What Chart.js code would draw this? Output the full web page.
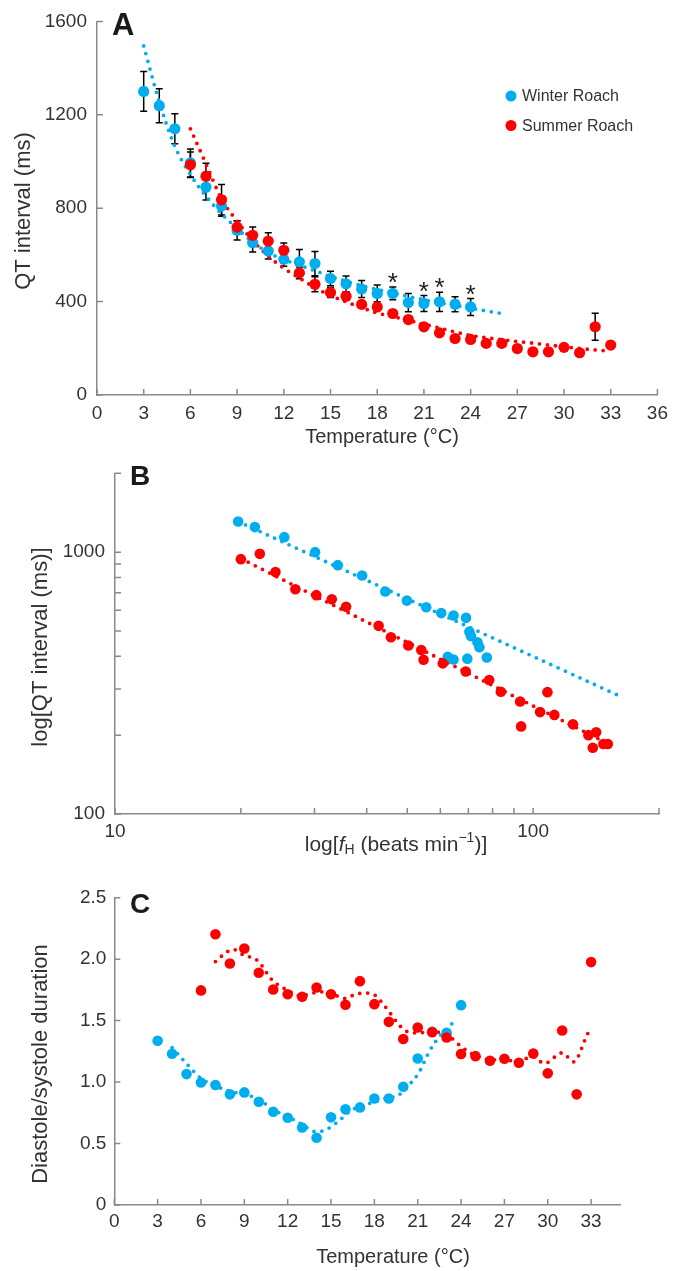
<!DOCTYPE html>
<html>
<head>
<meta charset="utf-8">
<script src="https://cdn.jsdelivr.net/npm/chart.js@4.4.1/dist/chart.umd.min.js"></script>
<style>
  html, body { margin: 0; padding: 0; background: #fff; }
  #wrap { position: relative; width: 675px; height: 1271px; }
  .panel { position: absolute; left: 0; width: 675px; }
</style>
</head>
<body>
<div id="wrap">
  <div class="panel" style="top:0;height:450px"><canvas id="chartA"></canvas></div>
  <div class="panel" style="top:450px;height:420px"><canvas id="chartB"></canvas></div>
  <div class="panel" style="top:870px;height:401px"><canvas id="chartC"></canvas></div>
</div>
<script>
// ---- Panel A: QT interval vs temperature ----
const tempWinterA = [3,4,5,6,7,8,9,10,11,12,13,14,15,16,17,18,19,20,21,22,23,24];
const qtWinter    = [1300,1239,1140,994,890,809,705,652,617,581,570,563,499,476,454,435,435,396,392,399,389,377];
const qtWinterErr = [85,73,64,60,55,43,41,40,35,30,53,52,31,34,36,36,27,39,34,41,32,36];
const tempSummerA = [6,7,8,9,10,11,12,13,14,15,16,17,18,19,20,21,22,23,24,25,26,27,28,29,30,31,32,33];
const qtSummer    = [986,937,836,719,684,659,620,523,474,439,423,388,377,349,323,292,266,242,238,221,221,199,185,185,204,181,292,214];
const qtSummerErr = [55,55,65,27,36,36,31,25,32,21,17,13,13,12,10,10,10,10,10,8,8,8,8,8,8,8,58,8];
// fitted curves
const fitTempWinterA = [3,4,5,6,7,8,9,10,11,12,13,14,15,16,17,18,19,20,21,22,23,24,25,26];
const fitQtWinterA   = [1495,1255,1065,944,852,776,713,655,610,580,556,532,508,487,468,452,437,422,408,395,384,372,360,349];
const fitTempSummerA = [6,7,8,9,10,11,12,13,14,15,16,17,18,19,20,21,22,23,24,25,26,27,28,29,30,31,32,33];
const fitQtSummerA   = [1140,990,840,744,662,595,543,501,460,426,399,374,351,336,320,303,287,270,255,245,237,229,222,214,207,199,193,188];
const sigTemps = [19,21,22,24];
const tempTicksA = [0,3,6,9,12,15,18,21,24,27,30,33,36];
const qtTicksA = [0,400,800,1200,1600];

// ---- Panel B: log QT vs log heart rate ----
const fhWinter  = [19.7,21.6,25.4,30.1,34.1,39.0,44.3,49.9,55.5,60.3,64.5,69.1,70.4,71.0,73.6,74.4,77.5,69.6,64.5,62.5];
const qtWinterB = [1309,1246,1141,1000,892,814,707,653,616,585,573,561,497,478,453,433,396,392,389,398];
const fhSummer  = [20.0,22.2,24.2,27.0,30.3,33.0,35.7,42.7,45.7,50.3,54.0,54.7,60.8,69.0,78.5,83.7,93.1,93.6,108.2,103.9,112.4,124.5,135.6,141.5,138.9,147.2,150.9];
const qtSummerB = [940,985,839,722,685,661,619,523,473,440,423,388,376,350,325,293,269,216,292,245,239,220,200,205,179,185,185];
const fitFhWinter = [19.7,163.6];
const fitQtWinterB = [1309,279];
const fitFhSummer = [20.0,150.7];
const fitQtSummerB = [945,186];
const fhTicks = [10,20,30,40,50,60,70,80,90,100,200];
const fhLabels = [10,100];
const qtTicksB = [100,200,300,400,500,600,700,800,900,1000,2000];
const qtLabelsB = [100,1000];

// ---- Panel C: diastole/systole ratio vs temperature ----
const tempWinterC = [3,4,5,6,7,8,9,10,11,12,13,14,15,16,17,18,19,20,21,22,23,24];
const ratioWinter = [1.336,1.230,1.065,0.997,0.976,0.900,0.916,0.840,0.759,0.710,0.631,0.547,0.713,0.778,0.794,0.867,0.867,0.962,1.192,1.409,1.401,1.626];
const tempSummerC = [6,7,8,9,10,11,12,13,14,15,16,17,18,19,20,21,22,23,24,25,26,27,28,29,30,31,32,33];
const ratioSummer = [1.746,2.203,1.965,2.087,1.889,1.753,1.715,1.694,1.770,1.715,1.629,1.821,1.634,1.490,1.350,1.444,1.406,1.363,1.228,1.211,1.173,1.190,1.157,1.233,1.071,1.420,0.900,1.976];
const fitTempWinterC = [4,5,6,7,8,9,10,11,12,13,14,14.7,15.6,16.4,17.5,18.6,19.75,20.5,21.1,21.8,22.5,23,23.65];
const fitRatioWinter = [1.28,1.15,1.03,0.97,0.925,0.90,0.86,0.775,0.72,0.655,0.595,0.615,0.69,0.77,0.82,0.86,0.90,0.99,1.08,1.25,1.37,1.43,1.51];
const fitTempSummerC = [7,7.7,8.2,9,9.6,10,10.6,11,11.5,12,12.9,13.5,14.2,15,16,16.6,17.3,18,18.5,19.1,19.75,20.3,21.1,22,22.6,23.2,23.9,24.7,25.6,26.6,27.5,28.2,28.9,29.8,30.6,31,31.8,32.1,32.5,32.9];
const fitRatioSummer = [1.98,2.05,2.08,2.03,2.01,1.98,1.88,1.82,1.78,1.745,1.70,1.716,1.735,1.72,1.68,1.71,1.725,1.71,1.65,1.56,1.46,1.41,1.40,1.415,1.40,1.37,1.30,1.233,1.19,1.18,1.175,1.18,1.206,1.152,1.214,1.238,1.165,1.206,1.323,1.43];
const tempTicksC = [0,3,6,9,12,15,18,21,24,27,30,33];
const ratioTicks = [0,0.5,1.0,1.5,2.0,2.5];

const FONT = "'Liberation Sans', Arial, Helvetica, sans-serif";
const AXIS_COLOR = '#8a8a8a';
const TEXT_COLOR = '#333';
const BLUE = '#00aeef';
const RED = '#ff0000';

function pts(xs, ys) { return xs.map((x, i) => ({ x: x, y: ys[i] })); }
function fixedTicks(values) { return (scale) => { scale.ticks = values.map(v => ({ value: v })); }; }

function points(label, data, color, r) {
  return { label, data, backgroundColor: color, pointBackgroundColor: color,
    pointBorderWidth: 0, pointRadius: r, pointHoverRadius: r, showLine: false };
}
function dotted(label, data, color, mode) {
  return { label, data, borderColor: color, borderWidth: 3.8, borderDash: [0, 8],
    borderCapStyle: 'round', pointRadius: 0, showLine: true,
    cubicInterpolationMode: mode || 'default', tension: mode ? 0 : 0.35 };
}

function axis(extra, tickPad, fmt) {
  return Object.assign({
    grid: { display: false, drawTicks: false },
    border: { color: AXIS_COLOR, width: 1.5 },
    ticks: { padding: tickPad, autoSkip: false, maxRotation: 0, color: TEXT_COLOR,
      font: { family: FONT, size: 19 }, callback: fmt || (v => String(v)) }
  }, extra);
}

// small tick marks pointing into the plot
const inwardTicks = {
  id: 'inwardTicks',
  afterDatasetsDraw(chart) {
    const { ctx, scales: { x, y } } = chart;
    ctx.save();
    ctx.strokeStyle = AXIS_COLOR;
    ctx.lineWidth = 1.5;
    ctx.beginPath();
    x.ticks.forEach(t => { const px = x.getPixelForValue(t.value); ctx.moveTo(px, x.top); ctx.lineTo(px, x.top - 6); });
    y.ticks.forEach(t => { const py = y.getPixelForValue(t.value); ctx.moveTo(y.right, py); ctx.lineTo(y.right + 6, py); });
    ctx.stroke();
    ctx.restore();
  }
};

// panel letter and axis titles
function panelText(o) {
  return {
    id: 'panelText',
    afterDraw(chart) {
      const ctx = chart.ctx;
      ctx.save();
      ctx.fillStyle = '#1a1a1a';
      ctx.font = `bold ${o.letterSize}px ${FONT}`;
      ctx.textAlign = 'left';
      ctx.textBaseline = 'alphabetic';
      ctx.fillText(o.letter, o.letterX, o.letterY);

      ctx.fillStyle = TEXT_COLOR;
      ctx.textBaseline = 'middle';
      // y title
      ctx.save();
      ctx.translate(o.yTitleX, o.yTitleY);
      ctx.rotate(-Math.PI / 2);
      ctx.textAlign = 'center';
      ctx.font = `22px ${FONT}`;
      ctx.fillText(o.yTitle, 0, 0);
      ctx.restore();
      // x title, as pieces (for sub/superscripts)
      const segs = o.xTitle;
      const fontOf = s => `${s.italic ? 'italic ' : ''}${s.small ? 14 : o.xSize}px ${FONT}`;
      let total = 0;
      segs.forEach(s => { ctx.font = fontOf(s); total += ctx.measureText(s.t).width; });
      let cx = o.xTitleX - total / 2;
      ctx.textAlign = 'left';
      segs.forEach(s => {
        ctx.font = fontOf(s);
        ctx.fillText(s.t, cx, o.xTitleY + (s.dy || 0));
        cx += ctx.measureText(s.t).width;
      });
      ctx.restore();
    }
  };
}

// error bars, significance stars and legend for panel A
const errorBars = {
  id: 'errorBars',
  beforeDatasetsDraw(chart) {
    const { ctx, scales: { x, y } } = chart;
    ctx.save();
    ctx.strokeStyle = '#000';
    ctx.lineWidth = 1.5;
    const draw = (ts, vs, es) => ts.forEach((t, i) => {
      const px = x.getPixelForValue(t);
      const top = y.getPixelForValue(vs[i] + es[i]);
      const bot = y.getPixelForValue(vs[i] - es[i]);
      ctx.beginPath();
      ctx.moveTo(px, top); ctx.lineTo(px, bot);
      ctx.moveTo(px - 3.5, top); ctx.lineTo(px + 3.5, top);
      ctx.moveTo(px - 3.5, bot); ctx.lineTo(px + 3.5, bot);
      ctx.stroke();
    });
    draw(tempSummerA, qtSummer, qtSummerErr);
    draw(tempWinterA, qtWinter, qtWinterErr);
    ctx.restore();
  },
  afterDraw(chart) {
    const { ctx, scales: { x, y } } = chart;
    ctx.save();
    ctx.fillStyle = '#222';
    ctx.font = `26px ${FONT}`;
    ctx.textAlign = 'center';
    ctx.textBaseline = 'alphabetic';
    sigTemps.forEach(t => {
      const i = tempWinterA.indexOf(t);
      const top = y.getPixelForValue(qtWinter[i] + qtWinterErr[i]);
      ctx.fillText('*', x.getPixelForValue(t), top + 4);
    });
    // legend
    const items = [['Winter Roach', BLUE], ['Summer Roach', RED]];
    ctx.font = `16px ${FONT}`;
    ctx.textAlign = 'left';
    ctx.textBaseline = 'middle';
    items.forEach(([txt, col], k) => {
      const ly = 96 + k * 29.5;
      ctx.fillStyle = col;
      ctx.beginPath(); ctx.arc(511, ly, 5.5, 0, Math.PI * 2); ctx.fill();
      ctx.fillStyle = TEXT_COLOR;
      ctx.fillText(txt, 522, ly + 1);
    });
    ctx.restore();
  }
};

const base = {
  responsive: true, maintainAspectRatio: false, animation: false, events: [],
  plugins: { legend: { display: false }, tooltip: { enabled: false } }
};

// Panel A
new Chart(document.getElementById('chartA'), {
  type: 'scatter',
  data: { datasets: [
    points('Summer Roach', pts(tempSummerA, qtSummer), RED, 5.6),
    points('Winter Roach', pts(tempWinterA, qtWinter), BLUE, 5.6),
    dotted('Summer fit', pts(fitTempSummerA, fitQtSummerA), RED, 'monotone'),
    dotted('Winter fit', pts(fitTempWinterA, fitQtWinterA), BLUE, 'monotone')
  ] },
  options: Object.assign({}, base, {
    layout: { padding: { top: 20.7, right: 15, left: 0, bottom: 0 } },
    scales: {
      x: axis({ type: 'linear', min: 0, max: 36, afterBuildTicks: fixedTicks(tempTicksA),
        afterFit: s => { s.height = 55; } }, 7),
      y: axis({ type: 'linear', min: 0, max: 1600, afterBuildTicks: fixedTicks(qtTicksA),
        afterFit: s => { s.width = 97; } }, 10)
    }
  }),
  plugins: [errorBars, inwardTicks, panelText({
    letter: 'A', letterSize: 31, letterX: 112, letterY: 35,
    yTitle: 'QT interval (ms)', yTitleX: 24, yTitleY: 211,
    xTitle: [{ t: 'Temperature (°C)' }], xSize: 20, xTitleX: 382, xTitleY: 437
  })]
});

// Panel B
new Chart(document.getElementById('chartB'), {
  type: 'scatter',
  data: { datasets: [
    points('Summer Roach', pts(fhSummer, qtSummerB), RED, 5.3),
    points('Winter Roach', pts(fhWinter, qtWinterB), BLUE, 5.3),
    dotted('Summer fit', pts(fitFhSummer, fitQtSummerB), RED),
    dotted('Winter fit', pts(fitFhWinter, fitQtWinterB), BLUE)
  ] },
  options: Object.assign({}, base, {
    layout: { padding: { top: 23.3, right: 16, left: 0, bottom: 0 } },
    scales: {
      x: axis({ type: 'logarithmic', min: 10, max: 200, afterBuildTicks: fixedTicks(fhTicks),
        afterFit: s => { s.height = 56; } }, 6, v => fhLabels.includes(v) ? String(v) : ''),
      y: axis({ type: 'logarithmic', min: 100, max: 2000, afterBuildTicks: fixedTicks(qtTicksB),
        afterFit: s => { s.width = 115; } }, 10, v => qtLabelsB.includes(v) ? String(v) : '')
    }
  }),
  plugins: [inwardTicks, panelText({
    letter: 'B', letterSize: 28, letterX: 130, letterY: 35,
    yTitle: 'log[QT interval (ms)]', yTitleX: 41, yTitleY: 197,
    xTitle: [{ t: 'log[' }, { t: 'f', italic: true }, { t: 'H', small: true, dy: 5 },
             { t: ' (beats min' }, { t: '\u22121', small: true, dy: -7 }, { t: ')]' }],
    xSize: 21, xTitleX: 396, xTitleY: 395
  })]
});

// Panel C
new Chart(document.getElementById('chartC'), {
  type: 'scatter',
  data: { datasets: [
    points('Summer Roach', pts(tempSummerC, ratioSummer), RED, 5.3),
    points('Winter Roach', pts(tempWinterC, ratioWinter), BLUE, 5.3),
    dotted('Summer fit', pts(fitTempSummerC, fitRatioSummer), RED, 'monotone'),
    dotted('Winter fit', pts(fitTempWinterC, fitRatioWinter), BLUE, 'monotone')
  ] },
  options: Object.assign({}, base, {
    layout: { padding: { top: 27.7, right: 55, left: 0, bottom: 0 } },
    scales: {
      x: axis({ type: 'linear', min: 0, max: 35, afterBuildTicks: fixedTicks(tempTicksC),
        afterFit: s => { s.height = 66; } }, 5),
      y: axis({ type: 'linear', min: 0, max: 2.5, afterBuildTicks: fixedTicks(ratioTicks),
        afterFit: s => { s.width = 114.3; } }, 8, v => v === 0 ? '0' : v.toFixed(1))
    }
  }),
  plugins: [inwardTicks, panelText({
    letter: 'C', letterSize: 28, letterX: 130, letterY: 43,
    yTitle: 'Diastole/systole duration', yTitleX: 41, yTitleY: 194,
    xTitle: [{ t: 'Temperature (°C)' }], xSize: 20, xTitleX: 393, xTitleY: 387
  })]
});
</script>
</body>
</html>
